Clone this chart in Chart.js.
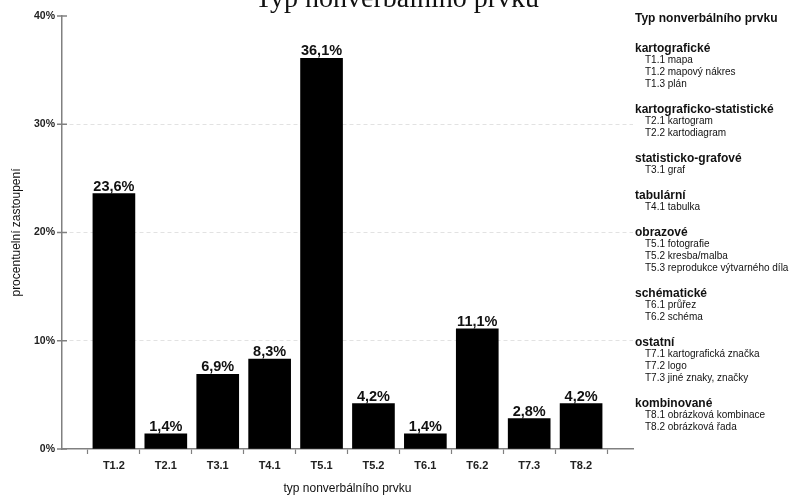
<!DOCTYPE html>
<html lang="cs">
<head>
<meta charset="utf-8">
<script src="https://cdn.jsdelivr.net/npm/chart.js@4.4.1/dist/chart.umd.min.js"></script>
<style>
  html, body { margin: 0; padding: 0; background: #fff; }
  #wrap { position: relative; width: 790px; height: 496px; overflow: hidden; }
  #chart { position: absolute; left: 0; top: 0; }
  #title {
    position: absolute; left: 197px; top: -16px; width: 400px;
    text-align: center; white-space: nowrap; color: #111;
    font-family: "Liberation Serif", serif; font-size: 28px; line-height: 28px;
  }
  #key {
    position: absolute; left: 635px; top: 12px; color: #111;
    font-family: "Liberation Sans", Arial, sans-serif; white-space: nowrap;
  }
  #key .kt { font-weight: bold; font-size: 12px; line-height: 12px; margin-bottom: 18px; }
  #key .kh { font-weight: bold; font-size: 12px; line-height: 12px; margin-top: 13px; }
  #key .ki { font-size: 10px; line-height: 12px; padding-left: 10px; }
</style>
</head>
<body>
<div id="wrap">
  <canvas id="chart" width="790" height="496"></canvas>
  <div id="title">Typ nonverbálního prvku</div>
  <div id="key"></div>
</div>
<script>
// Share of each nonverbal element type (percent)
const categories = ['T1.2', 'T2.1', 'T3.1', 'T4.1', 'T5.1', 'T5.2', 'T6.1', 'T6.2', 'T7.3', 'T8.2'];
const shares = [23.6, 1.4, 6.9, 8.3, 36.1, 4.2, 1.4, 11.1, 2.8, 4.2];
const yTicks = [0, 10, 20, 30, 40];

// Key of element types shown on the right
const keyTitle = 'Typ nonverbálního prvku';
const keyGroups = [
  ['kartografické', 'T1.1 mapa', 'T1.2 mapový nákres', 'T1.3 plán'],
  ['kartograficko-statistické', 'T2.1 kartogram', 'T2.2 kartodiagram'],
  ['statisticko-grafové', 'T3.1 graf'],
  ['tabulární', 'T4.1 tabulka'],
  ['obrazové', 'T5.1 fotografie', 'T5.2 kresba/malba', 'T5.3 reprodukce výtvarného díla'],
  ['schématické', 'T6.1 průřez', 'T6.2 schéma'],
  ['ostatní', 'T7.1 kartografická značka', 'T7.2 logo', 'T7.3 jiné znaky, značky'],
  ['kombinované', 'T8.1 obrázková kombinace', 'T8.2 obrázková řada']
];

const key = document.getElementById('key');
const kt = document.createElement('div');
kt.className = 'kt';
kt.textContent = keyTitle;
key.appendChild(kt);
keyGroups.forEach(group => {
  const g = document.createElement('div');
  group.forEach((text, i) => {
    const line = document.createElement('div');
    line.className = i === 0 ? 'kh' : 'ki';
    line.textContent = text;
    g.appendChild(line);
  });
  key.appendChild(g);
});

const SANS = '"Liberation Sans", Arial, sans-serif';
const AXIS_GREY = '#808080';
const fmt = v => v.toFixed(1).replace('.', ',') + '%';

// Tick marks that cross the value axis
const axisMarks = {
  id: 'axisMarks',
  afterDraw(chart) {
    const { ctx, chartArea, scales: { y } } = chart;
    ctx.save();
    ctx.strokeStyle = AXIS_GREY;
    ctx.lineWidth = 1.5;
    yTicks.forEach(v => {
      const py = y.getPixelForValue(v);
      ctx.beginPath();
      ctx.moveTo(chartArea.left - 5, py);
      ctx.lineTo(chartArea.left + 5, py);
      ctx.stroke();
    });
    ctx.restore();
  }
};

// Percentage printed above each bar
const valueLabels = {
  id: 'valueLabels',
  afterDatasetsDraw(chart) {
    const { ctx } = chart;
    const ds = chart.data.datasets[0];
    const meta = chart.getDatasetMeta(0);
    ctx.save();
    ctx.font = 'bold 14.5px ' + SANS;
    ctx.fillStyle = '#111';
    ctx.textAlign = 'center';
    ctx.textBaseline = 'alphabetic';
    meta.data.forEach((bar, i) => {
      const v = ds.data[i];
      if (v == null) return;
      ctx.fillText(fmt(v), bar.x, bar.y - 3);
    });
    ctx.restore();
  }
};

new Chart(document.getElementById('chart'), {
  type: 'bar',
  data: {
    labels: ['', ...categories, ''],
    datasets: [{
      data: [null, ...shares, null],
      backgroundColor: '#000',
      borderWidth: 0,
      barThickness: 42
    }]
  },
  options: {
    responsive: false,
    animation: false,
    layout: { padding: { left: 0, right: 157, top: 16, bottom: 0 } },
    plugins: { legend: { display: false }, tooltip: { enabled: false } },
    scales: {
      x: {
        type: 'category',
        offset: false,
        grid: {
          drawOnChartArea: false,
          drawTicks: true,
          tickLength: 5,
          tickWidth: 1.2,
          tickColor: c => (c.index === 0 ? 'rgba(0,0,0,0)' : AXIS_GREY)
        },
        border: { color: AXIS_GREY, width: 1.5 },
        ticks: {
          font: { family: SANS, size: 11, weight: 'bold' },
          color: '#222',
          padding: 5,
          maxRotation: 0,
          autoSkip: false
        },
        title: {
          display: true,
          text: 'typ nonverbálního prvku',
          font: { family: SANS, size: 12 },
          color: '#111',
          padding: { top: 0, bottom: 0 }
        },
        afterFit(s) { s.height = 47; }
      },
      y: {
        min: 0,
        max: 40,
        afterBuildTicks(s) { s.ticks = yTicks.map(v => ({ value: v })); },
        ticks: {
          callback: v => v + '%',
          font: { family: SANS, size: 10.5, weight: 'bold' },
          color: '#222',
          padding: 7
        },
        grid: {
          drawTicks: false,
          lineWidth: 1,
          color: c => (c.tick && c.tick.value > 0 && c.tick.value < 40 ? '#e2e2e2' : 'rgba(0,0,0,0)')
        },
        border: { color: AXIS_GREY, width: 1.5, dash: [4, 3] },
        title: {
          display: true,
          text: 'procentuelní zastoupení',
          font: { family: SANS, size: 12 },
          color: '#111',
          padding: { top: 9, bottom: 0 }
        },
        afterFit(s) { s.width = 62; }
      }
    }
  },
  plugins: [axisMarks, valueLabels]
});
</script>
</body>
</html>
